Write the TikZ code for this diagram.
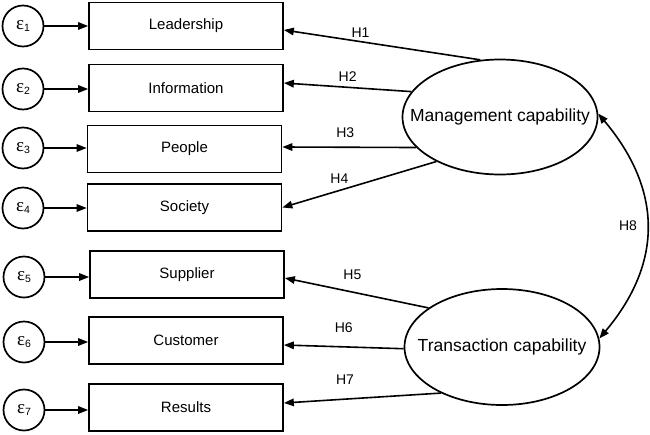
\documentclass[tikz,border=0pt]{standalone}
\usepackage{fontspec}
\setmainfont{Liberation Sans}
\newfontfamily\serifeps{Liberation Serif}
\usetikzlibrary{arrows.meta,shapes.geometric}
\newcommand\epslab[1]{{\serifeps\fontsize{19}{19}\selectfont ε}{\fontsize{10.5}{10.5}\selectfont\raisebox{-1.5pt}{#1}}}
\begin{document}
\begin{tikzpicture}[x=1pt,y=-1pt,
 box/.style={draw,line width=1.7pt,minimum width=194pt,minimum height=47pt,inner sep=0pt,font=\fontsize{15}{18}\selectfont},
 err/.style={draw,circle,line width=1.7pt,minimum size=41pt,inner sep=0pt},
 lat/.style={draw,ellipse,line width=1.7pt,minimum width=195pt,minimum height=115pt,inner sep=0pt},
 lattext/.style={inner sep=0pt,font=\fontsize{17.5}{20}\selectfont},
 arr/.style={line width=1.6pt,-{Triangle[length=10pt,width=7.5pt]}},
 dbl/.style={line width=1.6pt,{Triangle[length=10pt,width=7.5pt]}-{Triangle[length=10pt,width=7.5pt]}},
 hl/.style={font=\fontsize{14}{15}\selectfont,inner sep=0pt}
]
\useasboundingbox (0,0) rectangle (650,434);
% boxes
\node[box] (L) at (186,26) {Leadership};
\node[box] (I) at (186,88) {Information};
\node[box] (P) at (184.5,149) {People};
\node[box] (S) at (184.5,207.5) {Society};
\node[box] (Su) at (187,274.5) {Supplier};
\node[box] (C) at (186,340.5) {Customer};
\node[box] (R) at (186,407.5) {Results};
% error terms
\node[err] (e1) at (23,26) {\epslab{1}};
\node[err] (e2) at (23,89) {\epslab{2}};
\node[err] (e3) at (23,148) {\epslab{3}};
\node[err] (e4) at (23,208) {\epslab{4}};
\node[err] (e5) at (24,277) {\epslab{5}};
\node[err] (e6) at (24,342) {\epslab{6}};
\node[err] (e7) at (24,410) {\epslab{7}};
\draw[arr] (e1) -- (e1 -| L.west);
\draw[arr] (e2) -- (e2 -| I.west);
\draw[arr] (e3) -- (e3 -| P.west);
\draw[arr] (e4) -- (e4 -| S.west);
\draw[arr] (e5) -- (e5 -| Su.west);
\draw[arr] (e6) -- (e6 -| C.west);
\draw[arr] (e7) -- (e7 -| R.west);
% latent variables
\node[lat] (M) at (500,117) {};
\node[lattext] (Mt) at (M.center) {Management capability};
\node[lat,minimum height=116pt] (T) at (502,347) {};
\node[lattext] (Tt) at (T.center) {Transaction capability};
% paths
\draw[arr] (M.109) -- node[hl,pos=0.61,above=3.8pt]{H1} ([yshift=-4pt]L.east);
\draw[arr] (M.164.5) -- node[hl,pos=0.5,above=5.5pt]{H2} ([yshift=5pt]I.east);
\draw[arr] (M.200) -- node[hl,pos=0.53,above=9pt]{H3} ([yshift=2pt]P.east);
\draw[arr] (M.215.5) -- node[hl,pos=0.63,above=6pt]{H4} (S.east);
\draw[arr] (T.152) -- node[hl,pos=0.53,above=12pt]{H5} ([yshift=-3.5pt]Su.east);
\draw[arr] (T.181) -- node[hl,pos=0.5,above=13pt]{H6} ([yshift=-4.5pt]C.east);
\draw[arr] (T.217) -- node[hl,pos=0.61,above=14pt]{H7} ([yshift=4.5pt]R.east);
\draw[dbl] (M.2) .. controls +(64,76) and +(64,-76) .. node[hl,pos=0.5,left=9pt]{H8} (T.5);
\end{tikzpicture}
\end{document}
